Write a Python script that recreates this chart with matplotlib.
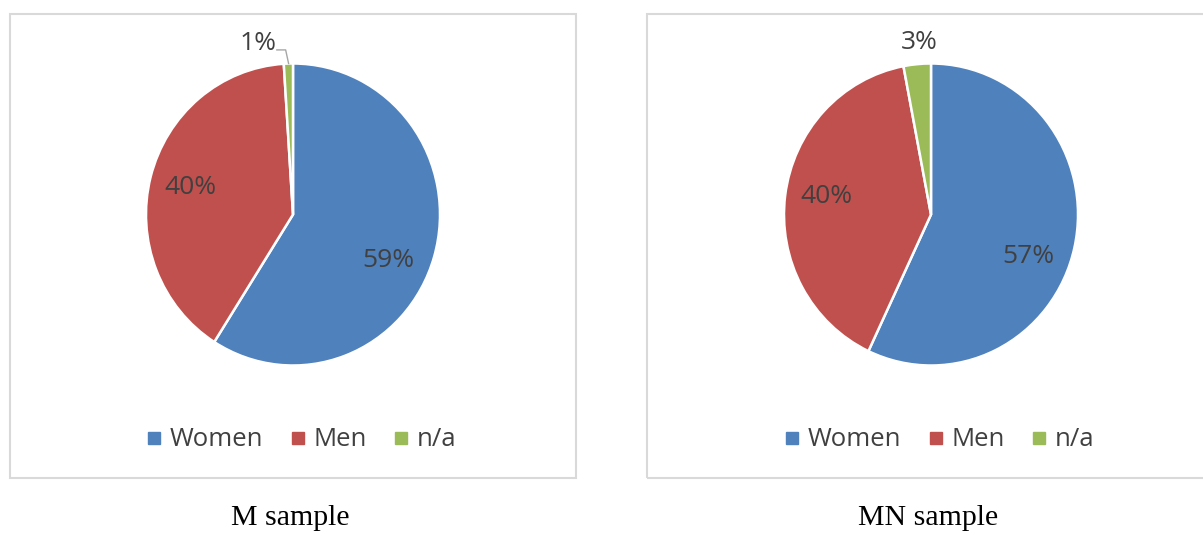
import numpy as np
import matplotlib.pyplot as plt
from matplotlib.patches import Rectangle
from matplotlib.lines import Line2D

categories = ['Women', 'Men', 'n/a']
m_sample = [59, 40, 1]
mn_sample = [57, 40, 3]
captions = ['M sample', 'MN sample']
colors = ['#4F81BD', '#C0504D', '#9BBB59']

W, H = 1203, 534
fig = plt.figure(figsize=(W / 100, H / 100), dpi=100)
plt.rcParams['font.family'] = ['Open Sans', 'DejaVu Sans']
txt_color = '#404040'


def px_axes(cx, cy, rx, ry):
    # axes spanning rx by ry pixels around (cx, cy) in image pixels
    ax = fig.add_axes([(cx - rx) / W, (H - cy - ry) / H, 2 * rx / W, 2 * ry / H])
    ax.axis('off')
    return ax


# panel frames
for x0, x1 in [(10, 576), (647, 1215)]:
    fig.patches.append(Rectangle((x0 / W, (H - 478) / H), (x1 - x0) / W, 464 / H,
                                 transform=fig.transFigure, fill=False,
                                 edgecolor='#D9D9D9', linewidth=1.5))

panels = [
    # centre x, data, label offsets (radius, angle tweak) per slice
    (293, m_sample, [(0.72, -9), (0.72, 0), (1.15, None)]),
    (931, mn_sample, [(0.72, -10), (0.72, -2.5), (1.15, None)]),
]

for i, (cx, vals, lab) in enumerate(panels):
    ax = px_axes(cx, 214.5, 147, 151)
    ax.pie(vals, colors=colors, startangle=90, counterclock=False, radius=1,
           wedgeprops=dict(edgecolor='white', linewidth=1.8))
    ax.set_aspect('auto')
    ax.set_xlim(-1, 1)
    ax.set_ylim(-1, 1)
    total = sum(vals)
    start = 90.0
    for v, (rr, tweak) in zip(vals, lab):
        span = v / total * 360
        mid = start - span / 2
        start -= span
        if tweak is None:
            if v < 2:
                # small slice: label off to the side with a leader line
                ax.text(-0.24, 1.13, f'{v}%', ha='center', va='center',
                        fontsize=19, color=txt_color, clip_on=False)
                ax.plot([-0.11, -0.05, -0.03], [1.09, 1.09, 1.0],
                        color='#A6A6A6', lw=1, clip_on=False)
            else:
                ax.text(-0.08, 1.14, f'{v}%', ha='center', va='center',
                        fontsize=19, color=txt_color, clip_on=False)
            continue
        a = np.radians(mid + tweak)
        ax.text(rr * np.cos(a), rr * np.sin(a), f'{v}%', ha='center',
                va='center', fontsize=19, color=txt_color)

    # legend row
    handles = [Line2D([], [], marker='s', ls='none', markersize=9,
                      markerfacecolor=c, markeredgecolor=c) for c in colors]
    fig.legend(handles, categories, loc='center', ncol=3, frameon=False,
               bbox_to_anchor=((cx + 7) / W, (H - 440) / H),
               fontsize=18.5, labelcolor=txt_color, handletextpad=0.2,
               columnspacing=0.95, handlelength=0.8)

    fig.text((cx - 3) / W, (H - 518) / H, captions[i], ha='center',
             va='center', fontsize=21.5, family='Liberation Serif', color='black')

fig.savefig('out.png', dpi=100, facecolor='white')
